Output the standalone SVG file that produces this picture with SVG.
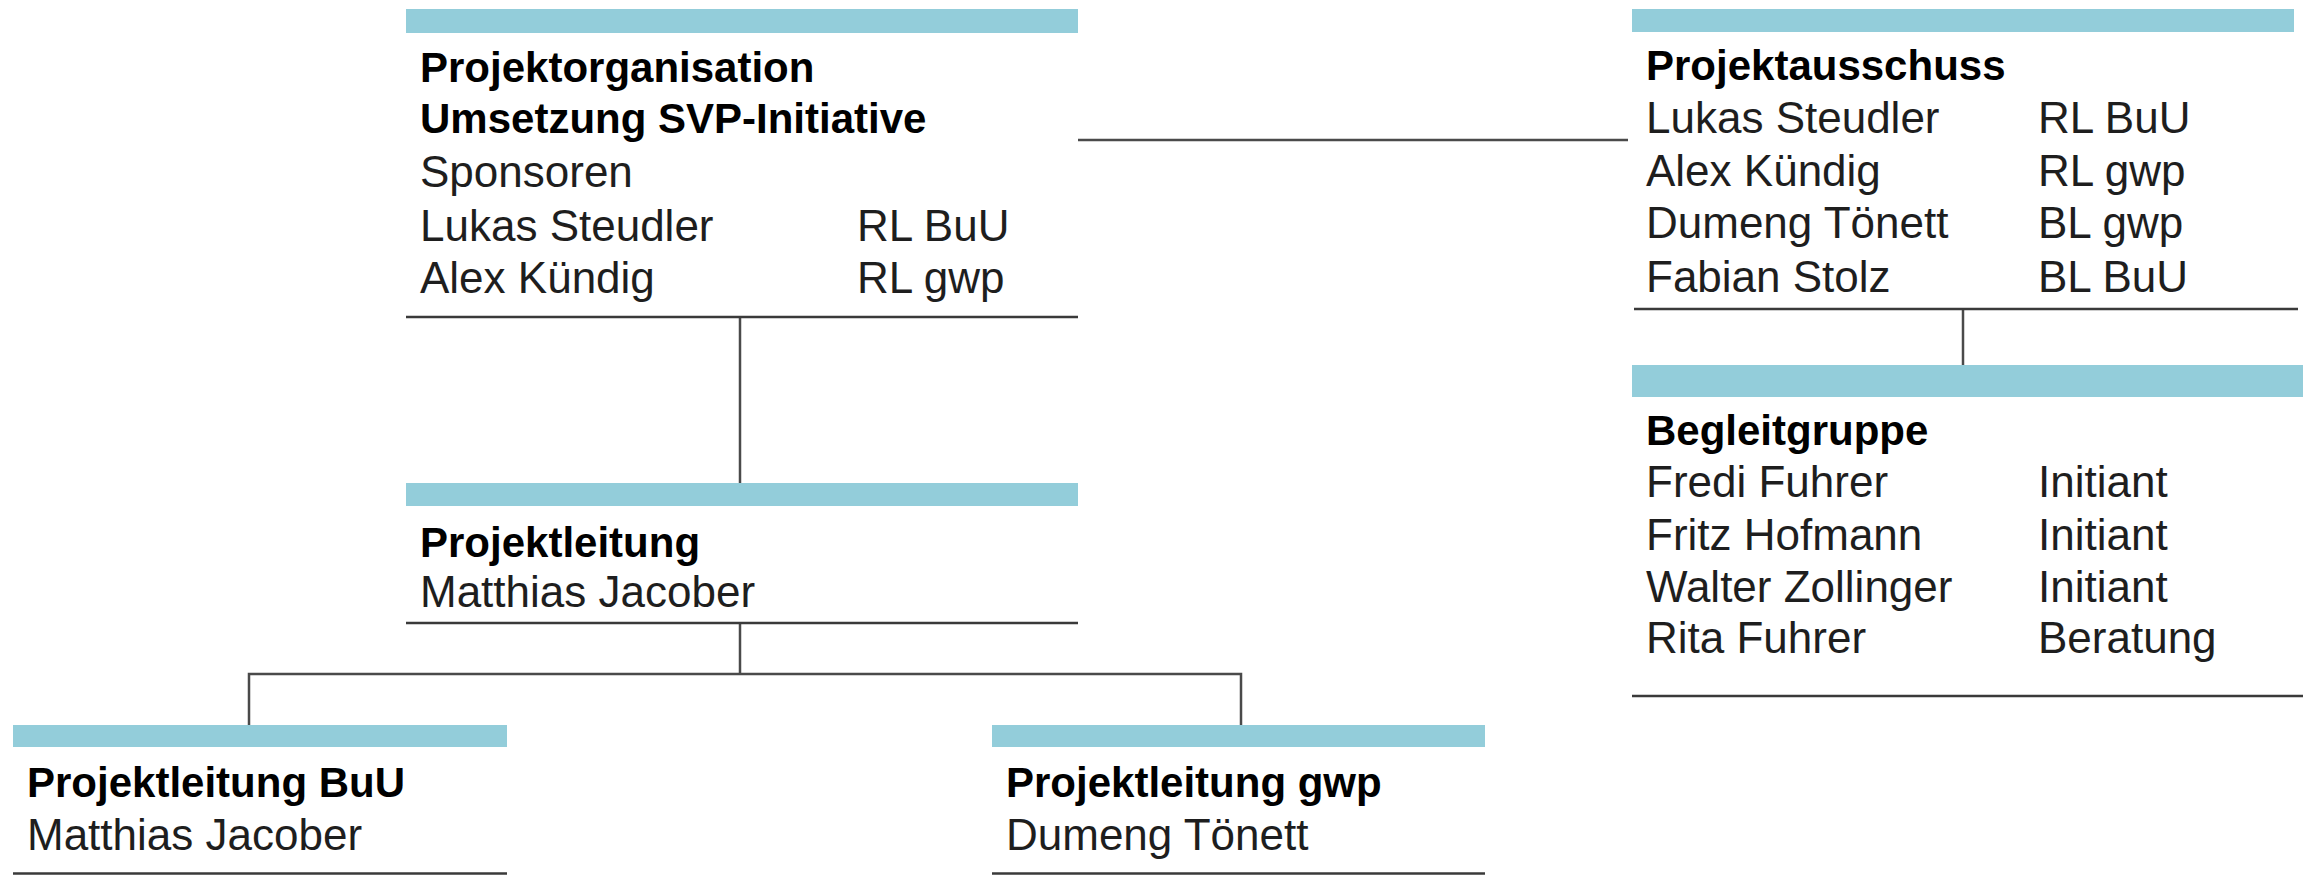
<svg xmlns="http://www.w3.org/2000/svg" width="2310" height="875" viewBox="0 0 2310 875">
<style>
.bar{fill:#93CDDA}
.rule{stroke:#3a3a3a;stroke-width:2.5;fill:none}
.conn{stroke:#4a4a4a;stroke-width:2.5;fill:none}
.t{font-family:"Liberation Sans",Arial,sans-serif;font-size:44px;fill:#1e1e1e}
.b{font-family:"Liberation Sans",Arial,sans-serif;font-size:42px;font-weight:bold;fill:#000}
</style>
<rect width="2310" height="875" fill="#fff"/>
<g id="connectors">
<line class="conn" x1="1078" y1="140" x2="1628" y2="140"/>
<line class="conn" x1="740" y1="317" x2="740" y2="483"/>
<line class="conn" x1="740" y1="623" x2="740" y2="674"/>
<polyline class="conn" points="249,725 249,674 1241,674 1241,725"/>
<line class="conn" x1="1963" y1="309" x2="1963" y2="365"/>
</g>
<g id="projektorganisation">
<rect class="bar" x="406" y="9" width="672" height="24"/>
<text class="b" x="420" y="82">Projektorganisation</text>
<text class="b" x="420" y="133">Umsetzung SVP-Initiative</text>
<text class="t" x="420" y="187">Sponsoren</text>
<text class="t" x="420" y="241">Lukas Steudler</text>
<text class="t" x="857" y="241">RL BuU</text>
<text class="t" x="420" y="293">Alex Kündig</text>
<text class="t" x="857" y="293">RL gwp</text>
<line class="rule" x1="406" y1="317" x2="1078" y2="317"/>
</g>
<g id="projektausschuss">
<rect class="bar" x="1632" y="9" width="662" height="23"/>
<text class="b" x="1646" y="80">Projektausschuss</text>
<text class="t" x="1646" y="133">Lukas Steudler</text>
<text class="t" x="2038" y="133">RL BuU</text>
<text class="t" x="1646" y="186">Alex Kündig</text>
<text class="t" x="2038" y="186">RL gwp</text>
<text class="t" x="1646" y="238">Dumeng Tönett</text>
<text class="t" x="2038" y="238">BL gwp</text>
<text class="t" x="1646" y="292">Fabian Stolz</text>
<text class="t" x="2038" y="292">BL BuU</text>
<line class="rule" x1="1634" y1="309" x2="2298" y2="309"/>
</g>
<g id="begleitgruppe">
<rect class="bar" x="1632" y="365" width="671" height="32"/>
<text class="b" x="1646" y="445">Begleitgruppe</text>
<text class="t" x="1646" y="497">Fredi Fuhrer</text>
<text class="t" x="2038" y="497">Initiant</text>
<text class="t" x="1646" y="550">Fritz Hofmann</text>
<text class="t" x="2038" y="550">Initiant</text>
<text class="t" x="1646" y="602">Walter Zollinger</text>
<text class="t" x="2038" y="602">Initiant</text>
<text class="t" x="1646" y="653">Rita Fuhrer</text>
<text class="t" x="2038" y="653">Beratung</text>
<line class="rule" x1="1632" y1="696" x2="2303" y2="696"/>
</g>
<g id="projektleitung">
<rect class="bar" x="406" y="483" width="672" height="23"/>
<text class="b" x="420" y="557">Projektleitung</text>
<text class="t" x="420" y="607">Matthias Jacober</text>
<line class="rule" x1="406" y1="623" x2="1078" y2="623"/>
</g>
<g id="projektleitung-buu">
<rect class="bar" x="13" y="725" width="494" height="22"/>
<text class="b" x="27" y="797">Projektleitung BuU</text>
<text class="t" x="27" y="850">Matthias Jacober</text>
<line class="rule" x1="13" y1="873.5" x2="507" y2="873.5"/>
</g>
<g id="projektleitung-gwp">
<rect class="bar" x="992" y="725" width="493" height="22"/>
<text class="b" x="1006" y="797">Projektleitung gwp</text>
<text class="t" x="1006" y="850">Dumeng Tönett</text>
<line class="rule" x1="992" y1="873.5" x2="1485" y2="873.5"/>
</g>
</svg>
